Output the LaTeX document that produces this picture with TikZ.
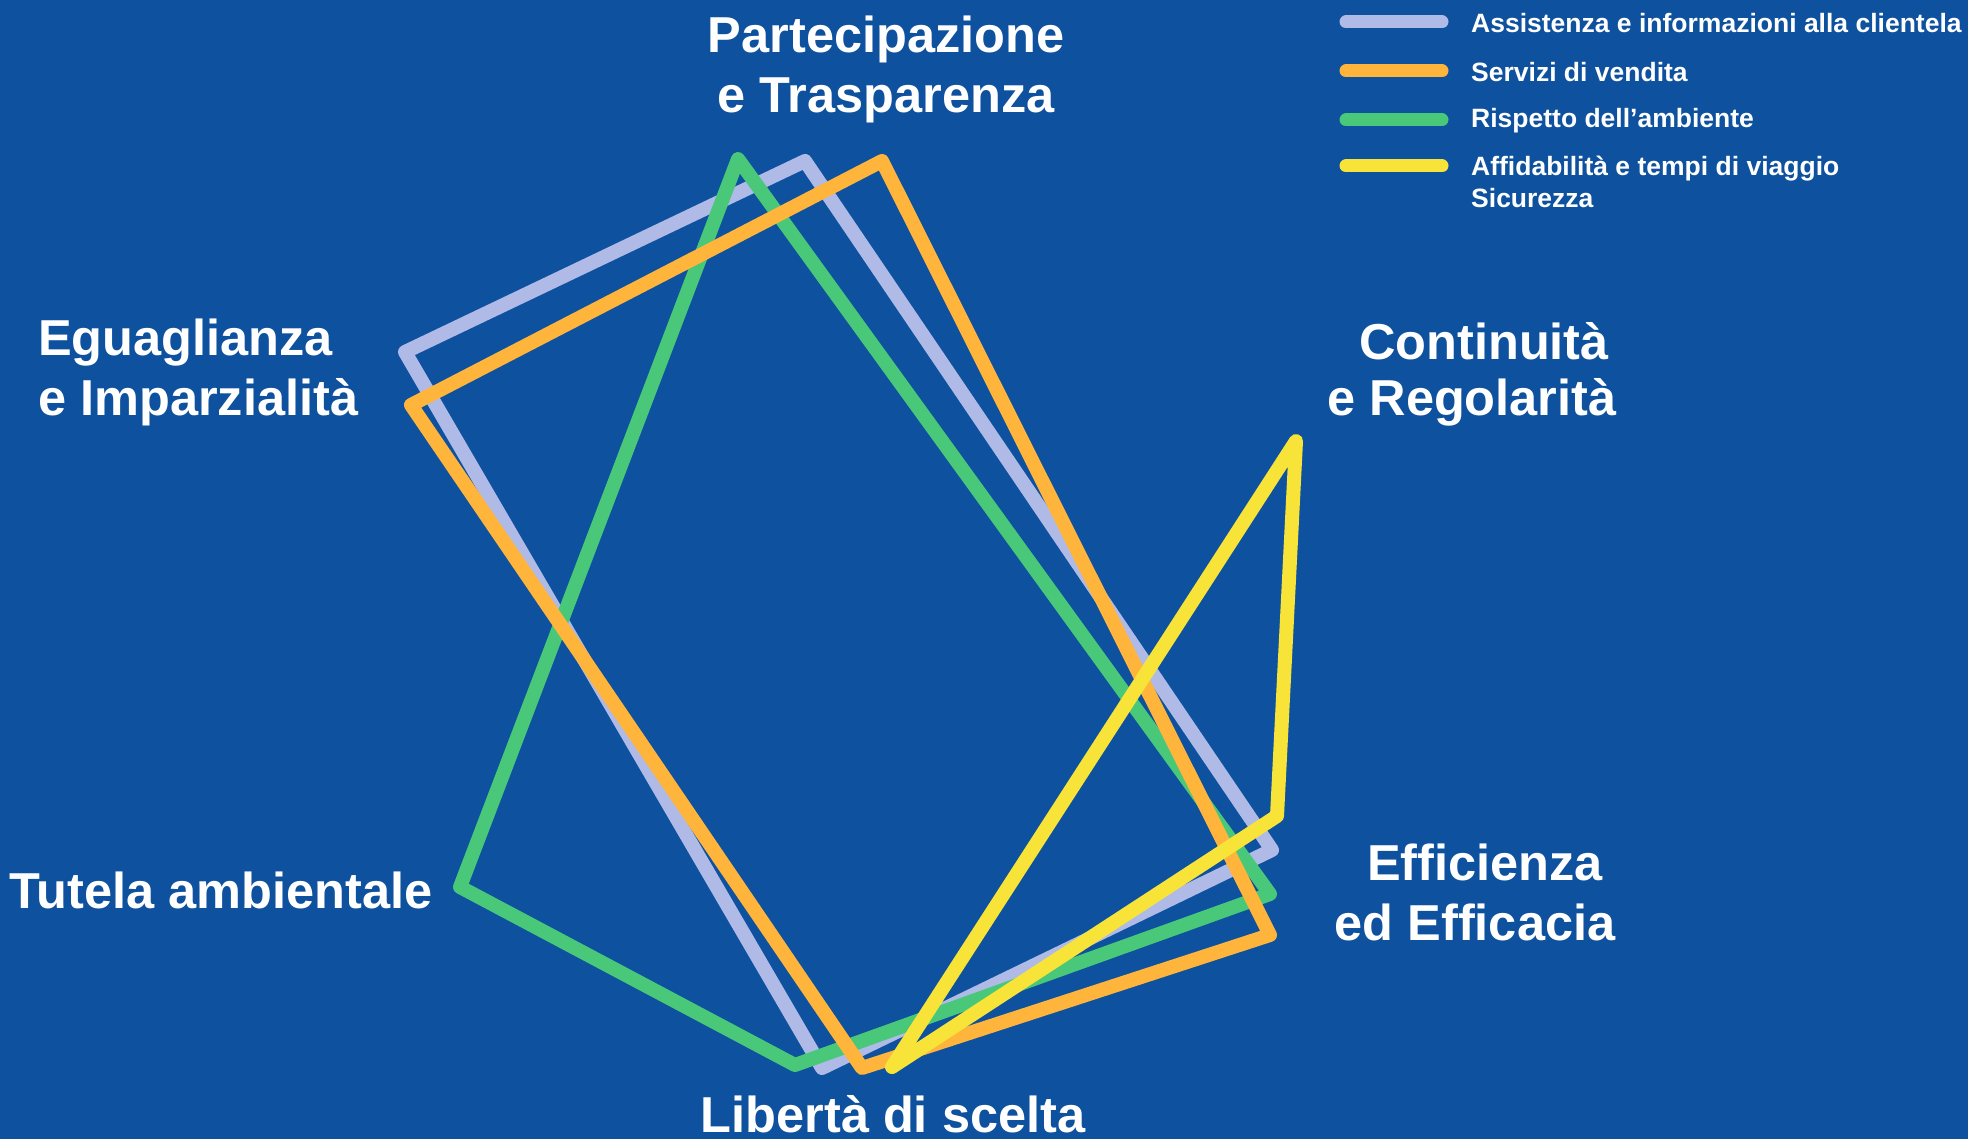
\documentclass[tikz,border=0pt]{standalone}
\usepackage{fontspec}
\setmainfont{Liberation Sans}
\definecolor{bgblue}{RGB}{14,81,158}
\definecolor{clav}{RGB}{176,186,230}
\definecolor{corange}{RGB}{255,180,60}
\definecolor{cgreen}{RGB}{72,200,120}
\definecolor{cyellow}{RGB}{248,228,56}
\tikzset{
  series/.style={line width=14pt, line join=round, line cap=round},
  axislabel/.style={text=white, font=\bfseries\fontsize{50.5}{60}\selectfont, inner sep=0pt},
  legline/.style={line width=13pt, line cap=round},
  legtext/.style={text=white, font=\bfseries\fontsize{26.5}{32}\selectfont, inner sep=0pt, anchor=west, align=left},
}
\begin{document}
\begin{tikzpicture}[x=1pt,y=-1pt]
\fill[bgblue] (0,0) rectangle (1968,1139);
\useasboundingbox (0,0) rectangle (1968,1139);

% axis labels
\node[axislabel, align=center] (lpart) at (886,69) {Partecipazione\\e Trasparenza};
\node[axislabel, align=left, anchor=west] (legu) at (38,372) {Eguaglianza\\e Imparzialità};
\node[axislabel] (lcont1) at (1484,341) {Continuità};
\node[axislabel] (lcont2) at (1472,402) {e Regolarità};
\node[axislabel] (leff1) at (1485,862) {Efficienza};
\node[axislabel] (leff2) at (1475,922) {ed Efficacia};
\node[axislabel] (ltut) at (221,890) {Tutela ambientale};
\node[axislabel, anchor=base] (llib) at (893,1132) {Libertà di scelta};

% series vertices
\coordinate (at) at (805,161);  \coordinate (ar) at (1272,850);
\coordinate (ab) at (822,1068); \coordinate (al) at (405,352);
\coordinate (gt) at (738,159);  \coordinate (gr) at (1270,894);
\coordinate (gb) at (795,1065); \coordinate (gl) at (460,887);
\coordinate (ot) at (882,161);  \coordinate (or) at (1270,935);
\coordinate (ob) at (862,1068); \coordinate (ol) at (411,405);
\coordinate (yt) at (1296,441); \coordinate (yr) at (1277,816);
\coordinate (yb) at (892,1067);

\draw[series, clav] (at) -- (ar) -- (ab) -- (al) -- cycle;
\draw[series, cgreen] (gt) -- (gr) -- (gb) -- (gl) -- cycle;
\draw[series, corange] (ot) -- (or) -- (ob) -- (ol) -- cycle;
\draw[series, cyellow] (yb) -- (yt) -- (yr) -- cycle;

% legend
\coordinate (l1a) at (1346,22);  \coordinate (l1b) at (1442,22);
\coordinate (l2a) at (1346,71);  \coordinate (l2b) at (1442,71);
\coordinate (l3a) at (1346,120); \coordinate (l3b) at (1442,120);
\coordinate (l4a) at (1346,166); \coordinate (l4b) at (1442,166);
\draw[legline, clav] (l1a) -- (l1b);
\draw[legline, corange] (l2a) -- (l2b);
\draw[legline, cgreen] (l3a) -- (l3b);
\draw[legline, cyellow] (l4a) -- (l4b);
\node[legtext] (t1) at (1471,23) {Assistenza e informazioni alla clientela};
\node[legtext] (t2) at (1471,72) {Servizi di vendita};
\node[legtext] (t3) at (1471,121) {Rispetto dell’ambiente};
\node[legtext, anchor=north west] (t4) at (1471,156) {Affidabilità e tempi di viaggio\\Sicurezza};
\end{tikzpicture}
\end{document}
